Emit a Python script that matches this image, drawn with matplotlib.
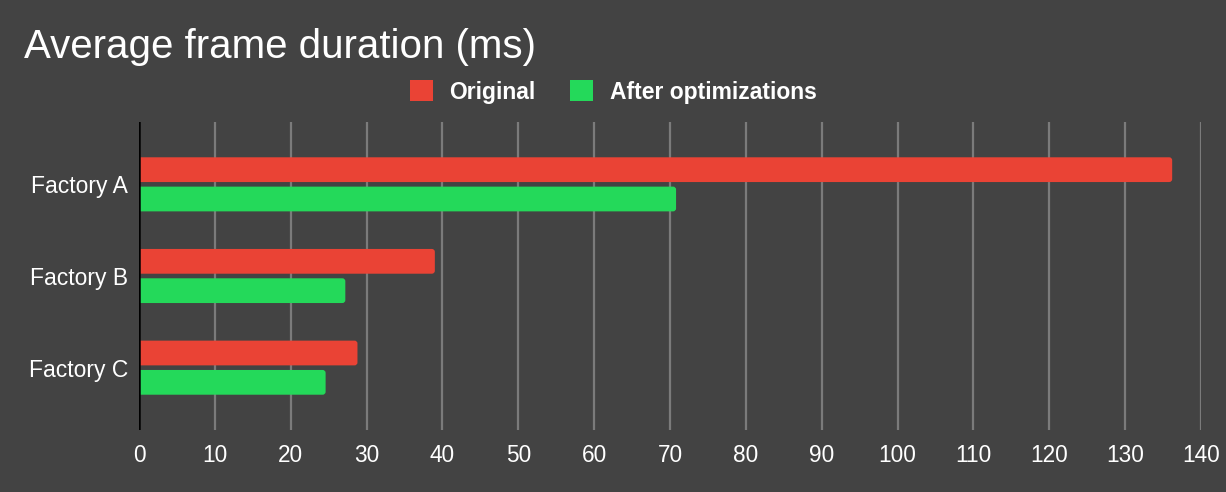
import matplotlib.pyplot as plt
from matplotlib.patches import Patch, FancyBboxPatch
import numpy as np

plt.rcParams['font.family'] = ['Liberation Sans', 'DejaVu Sans']

factories = ["Factory A", "Factory B", "Factory C"]
original = [136.2, 39.0, 28.8]
optimized = [70.8, 27.2, 24.6]
x_ticks = list(range(0, 141, 10))

BG = "#434343"
RED = "#EA4335"
GREEN = "#24D95A"
GRID = "#7b7b7b"

fig = plt.figure(figsize=(12.26, 4.92), dpi=100, facecolor=BG)
ax = fig.add_axes([139 / 1226, 1 - 430 / 492, (1201 - 139) / 1226, (430 - 122) / 492])
ax.set_facecolor(BG)

pos = np.arange(len(factories))
h = 0.27
bars_a = ax.barh(pos - 0.16, original, height=h, color=RED, zorder=2)
bars_b = ax.barh(pos + 0.16, optimized, height=h, color=GREEN, zorder=2)

ax.set_xlim(0, 140)
ax.set_ylim(2.68, -0.68)


def round_ends(bars):
    # swap the plain rectangles for ones with small rounded right corners
    for r in bars:
        x, y, w, hh = r.get_x(), r.get_y(), r.get_width(), r.get_height()
        r.set_visible(False)
        p = FancyBboxPatch((x - 1, y), w + 1, hh,
                           boxstyle="round,pad=0,rounding_size=0.4",
                           mutation_aspect=0.08, facecolor=r.get_facecolor(),
                           edgecolor="none", zorder=2)
        ax.add_patch(p)


round_ends(bars_a)
round_ends(bars_b)

ax.set_xticks(x_ticks)
ax.set_xticklabels([str(t) for t in x_ticks])
ax.set_yticks(pos)
ax.set_yticklabels(factories)

ax.grid(axis="x", color=GRID, linewidth=1.6, zorder=1)
ax.axvline(0, color="black", linewidth=1.8, zorder=3)
for s in ax.spines.values():
    s.set_visible(False)
ax.tick_params(axis="x", length=0, pad=10, labelsize=16.3, labelcolor="white")
ax.tick_params(axis="y", length=0, pad=8, labelsize=16.5, labelcolor="white")

fig.text(24 / 1226, 1 - 58 / 492, "Average frame duration (ms)", color="white",
         fontsize=29, va="baseline", ha="left")

handles = [Patch(facecolor=RED, label="Original"),
           Patch(facecolor=GREEN, label="After optimizations")]
leg = fig.legend(handles=handles, loc="center", bbox_to_anchor=(0.5, 1 - 92 / 492),
                 ncol=2, frameon=False, handlelength=1.0, handleheight=1.0,
                 handletextpad=0.74, columnspacing=1.48,
                 prop={"weight": "bold", "size": 16.5})
for t in leg.get_texts():
    t.set_color("white")

fig.savefig("out.png", dpi=100, facecolor=BG)
